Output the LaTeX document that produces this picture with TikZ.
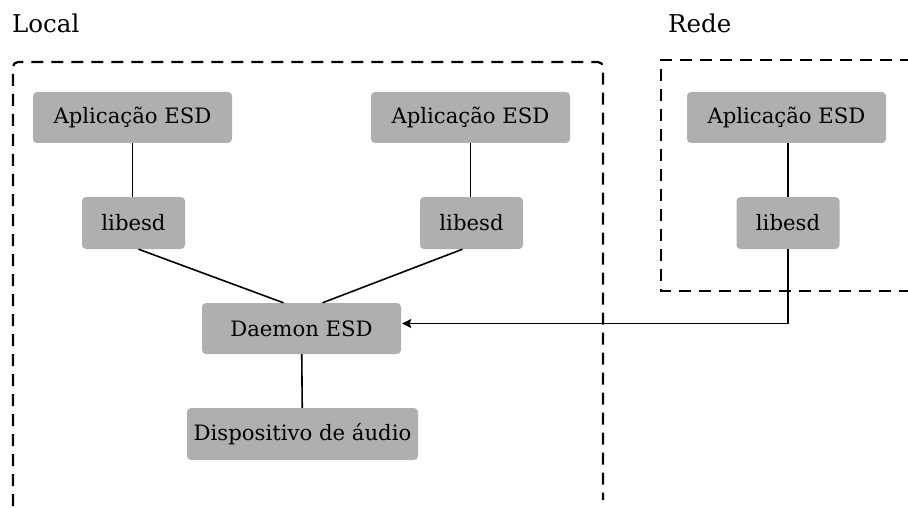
\documentclass[tikz,border=0pt]{standalone}
\usepackage{fontspec}
\setmainfont{DejaVu Serif}
\usetikzlibrary{arrows.meta}
\definecolor{boxgray}{RGB}{175,175,175}
\begin{document}
\begin{tikzpicture}[x=1pt,y=-1pt,
  box/.style={fill=boxgray, rounded corners=4pt, inner sep=0pt, font=\fontsize{21.2}{25}\selectfont},
  wide/.style={box, minimum width=199pt, minimum height=51pt},
  lib/.style={box, minimum width=103pt, minimum height=52pt},
  conn/.style={line width=1.6pt},
  region/.style={line width=2.2pt, dash pattern=on 12pt off 8pt},
  title/.style={anchor=base west, inner sep=0pt, font=\fontsize{24.5}{28}\selectfont}]
\useasboundingbox (0,0) rectangle (908,508);
\node[title] (tlocal) at (12,33) {Local};
\node[title] (trede) at (668,33) {Rede};
\node[wide] (app1) at (132.5,117.5) {Aplicação ESD};
\node[wide] (app2) at (470.5,117.5) {Aplicação ESD};
\node[wide] (app3) at (786.5,117.5) {Aplicação ESD};
\node[lib] (lib1) at (133.5,223) {libesd};
\node[lib] (lib2) at (471.5,223) {libesd};
\node[lib] (lib3) at (788,223) {libesd};
\node[wide] (daemon) at (301.5,328.5) {Daemon ESD};
\node[box, minimum width=231pt, minimum height=52pt] (dev) at (302.5,434) {Dispositivo de áudio};
\draw[region, rounded corners=5pt] (13,506) -- (13,62) -- (603,62) -- (603,500);
\draw[region] (912,60) -- (661,60) -- (661,291) -- (912,291);
\draw[conn] (app1) -- (lib1.north -| app1);
\draw[conn] (app2) -- (lib2.north -| app2);
\draw[conn] (app3.south -| lib3) -- (lib3);
\draw[conn] ([xshift=5pt]lib1.south) -- ([xshift=-18pt]daemon.north);
\draw[conn] ([xshift=-9pt]lib2.south) -- ([xshift=21pt]daemon.north);
\draw[conn] (daemon) -- (dev);
\draw[conn, -{Stealth[length=9pt,width=9pt,inset=1.5pt]}] (lib3.south) |- ([yshift=5pt,xshift=1pt]daemon.east);
\end{tikzpicture}
\end{document}
